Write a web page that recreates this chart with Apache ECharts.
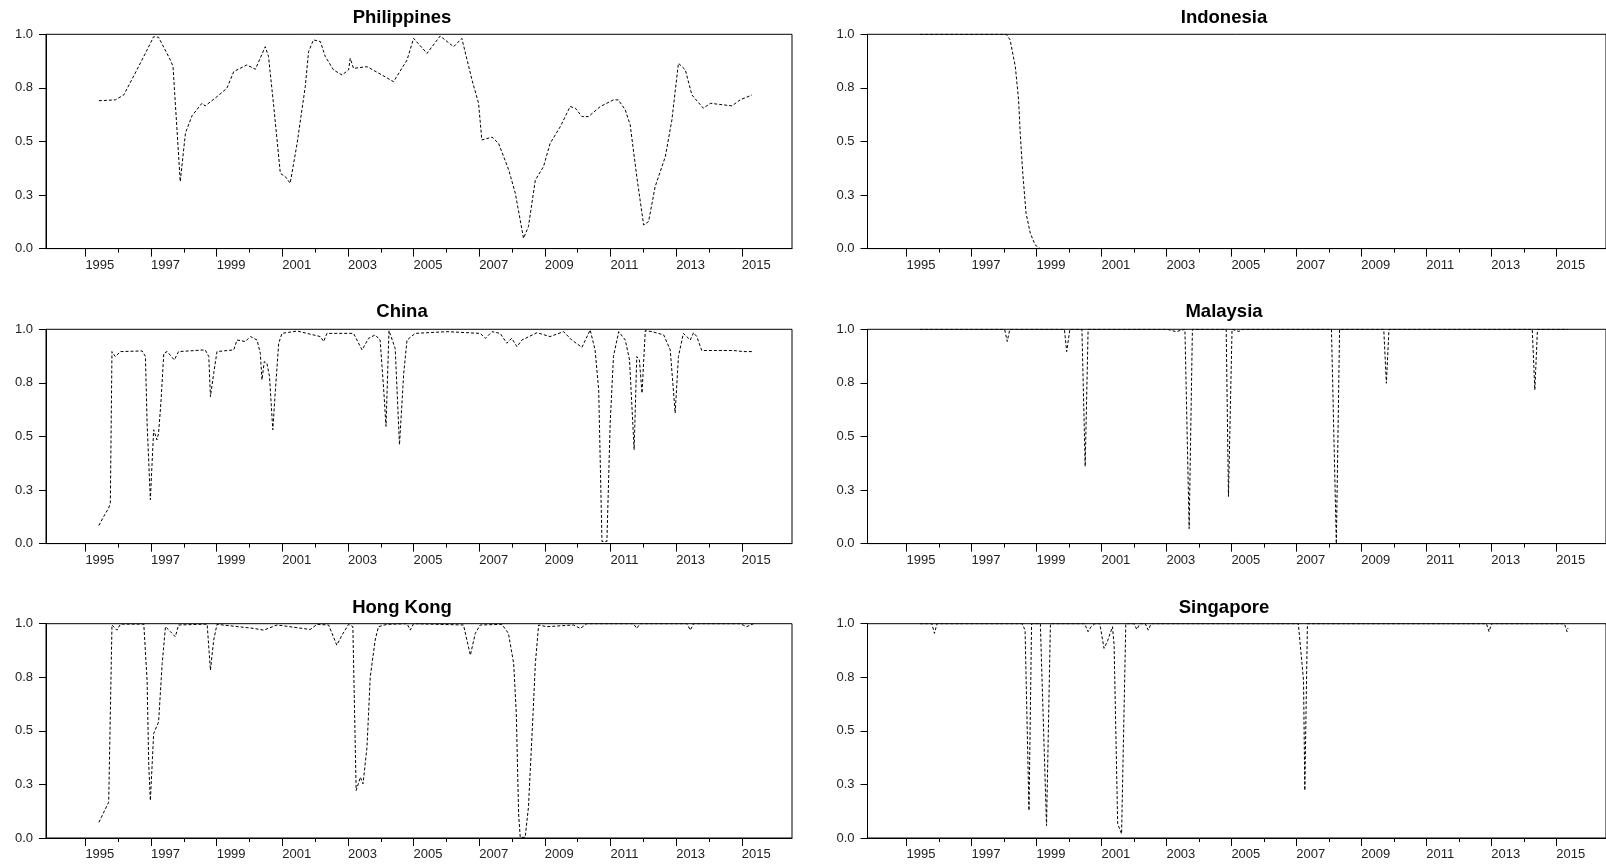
<!DOCTYPE html>
<html>
<head>
<meta charset="utf-8">
<script src="https://cdn.jsdelivr.net/npm/echarts@6/dist/echarts.min.js"></script>
<style>
  html, body { margin: 0; padding: 0; background: #fff; }
  #main { width: 1606px; height: 864px; }
</style>
</head>
<body>
<div id="main"></div>
<script>
// tick positions / labels
var labelYears = [1995, 1997, 1999, 2001, 2003, 2005, 2007, 2009, 2011, 2013, 2015];
var minorYears = [1996, 1998, 2000, 2002, 2004, 2006, 2008, 2010, 2012, 2014];
var yTickVals = [0, 0.25, 0.5, 0.75, 1];
var yTickLabels = ['0.0', '0.3', '0.5', '0.8', '1.0'];

// Philippines
var phYears = [1995.41, 1995.91, 1996.17, 1996.57, 1996.88, 1997.08, 1997.23, 1997.59, 1997.67, 1997.89,
  1998.05, 1998.25, 1998.55, 1998.65, 1999.01, 1999.31, 1999.52, 1999.92, 2000.18, 2000.48,
  2000.58, 2000.74, 2000.94, 2001.09, 2001.24, 2001.45, 2001.70, 2001.80, 2001.95, 2002.16,
  2002.31, 2002.56, 2002.82, 2003.02, 2003.07, 2003.17, 2003.58, 2003.98, 2004.39, 2004.80,
  2005.00, 2005.41, 2005.81, 2006.22, 2006.47, 2006.78, 2006.98, 2007.08, 2007.39, 2007.59,
  2007.90, 2008.10, 2008.35, 2008.50, 2008.71, 2008.96, 2009.16, 2009.47, 2009.77, 2009.93,
  2010.13, 2010.33, 2010.69, 2011.09, 2011.24, 2011.45, 2011.60, 2011.80, 2012.01, 2012.16,
  2012.36, 2012.67, 2012.87, 2013.07, 2013.28, 2013.48, 2013.83, 2014.04, 2014.70, 2014.95,
  2015.31];
var phVals = [0.69, 0.694, 0.717, 0.834, 0.927, 0.989, 0.986, 0.88, 0.85, 0.313,
  0.54, 0.62, 0.678, 0.666, 0.709, 0.748, 0.826, 0.857, 0.837, 0.942,
  0.896, 0.663, 0.351, 0.336, 0.305, 0.49, 0.756, 0.919, 0.974, 0.966,
  0.896, 0.834, 0.81, 0.834, 0.888, 0.841, 0.849, 0.815, 0.779, 0.88,
  0.981, 0.911, 0.992, 0.942, 0.981, 0.787, 0.678, 0.507, 0.52, 0.491,
  0.367, 0.258, 0.048, 0.103, 0.32, 0.383, 0.491, 0.569, 0.663, 0.655,
  0.616, 0.616, 0.663, 0.694, 0.694, 0.647, 0.577, 0.336, 0.11, 0.126,
  0.289, 0.429, 0.6, 0.865, 0.834, 0.717, 0.655, 0.678, 0.666, 0.694,
  0.717];

// Indonesia
var inYears = [1995.42, 1998.07, 1998.19, 1998.35, 1998.45, 1998.50, 1998.58, 1998.68, 1998.81, 1998.96, 1999.11, 2015.36];
var inVals = [1, 1, 0.974, 0.849, 0.694, 0.538, 0.351, 0.165, 0.072, 0.017, 0, 0];

// China
var cnYears = [1995.41, 1995.56, 1995.71, 1995.76, 1995.81, 1995.91, 1996.07, 1996.73, 1996.83, 1996.88,
  1996.98, 1997.08, 1997.18, 1997.23, 1997.30, 1997.39, 1997.49, 1997.71, 1997.84, 1998.65,
  1998.76, 1998.81, 1998.91, 1999.01, 1999.52, 1999.62, 1999.87, 2000.03, 2000.23, 2000.33,
  2000.38, 2000.45, 2000.53, 2000.61, 2000.71, 2000.79, 2000.89, 2000.99, 2001.45, 2002.16,
  2002.26, 2002.36, 2003.17, 2003.43, 2003.63, 2003.83, 2003.98, 2004.09, 2004.16, 2004.25,
  2004.44, 2004.57, 2004.70, 2004.80, 2005.05, 2006.02, 2007.03, 2007.19, 2007.39, 2007.64,
  2007.84, 2007.99, 2008.15, 2008.30, 2008.76, 2009.16, 2009.57, 2009.82, 2010.13, 2010.38,
  2010.53, 2010.64, 2010.74, 2010.89, 2010.99, 2011.09, 2011.25, 2011.45, 2011.58, 2011.72,
  2011.80, 2011.88, 2011.96, 2012.06, 2012.26, 2012.62, 2012.82, 2012.97, 2013.07, 2013.22,
  2013.43, 2013.53, 2013.63, 2013.78, 2014.75, 2015.05, 2015.36];
var cnVals = [0.084, 0.127, 0.166, 0.19, 0.896, 0.873, 0.896, 0.899, 0.873, 0.562,
  0.205, 0.531, 0.484, 0.516, 0.655, 0.888, 0.896, 0.857, 0.896, 0.904,
  0.873, 0.686, 0.795, 0.896, 0.904, 0.95, 0.943, 0.966, 0.95, 0.888,
  0.764, 0.849, 0.842, 0.78, 0.531, 0.717, 0.935, 0.981, 0.992, 0.966,
  0.943, 0.981, 0.981, 0.904, 0.958, 0.974, 0.95, 0.717, 0.547, 0.994,
  0.91, 0.461, 0.795, 0.95, 0.981, 0.989, 0.981, 0.958, 0.989, 0.981,
  0.935, 0.958, 0.919, 0.95, 0.984, 0.966, 0.989, 0.95, 0.916, 0.997,
  0.904, 0.717, 0.01, 0.01, 0.562, 0.873, 0.989, 0.95, 0.857, 0.438,
  0.873, 0.857, 0.702, 0.994, 0.989, 0.974, 0.904, 0.609, 0.873, 0.981,
  0.95, 0.984, 0.966, 0.901, 0.901, 0.896, 0.896];

// Malaysia
var myYears = [1995.42, 1998.02, 1998.10, 1998.18, 1999.86, 1999.93, 2000.03, 2000.40, 2000.50, 2000.59,
  2003.03, 2003.30, 2003.57, 2003.70, 2003.80, 2004.84, 2004.91, 2005.02, 2005.23, 2005.35,
  2008.08, 2008.23, 2008.33, 2009.69, 2009.77, 2009.85, 2014.26, 2014.34, 2014.42, 2015.36];
var myVals = [1, 1, 0.943, 1, 1, 0.896, 1, 1, 0.36, 1,
  1, 0.989, 1, 0.07, 1, 1, 0.22, 1, 0.99, 1,
  1, 0.0, 1, 1, 0.748, 1, 1, 0.717, 1, 1];

// Hong Kong
var hkYears = [1995.41, 1995.71, 1995.81, 1995.96, 1996.07, 1996.78, 1996.88, 1996.93, 1996.98, 1997.08,
  1997.23, 1997.34, 1997.44, 1997.59, 1997.74, 1997.84, 1998.71, 1998.81, 1998.91, 1999.01,
  2000.13, 2000.43, 2000.84, 2001.85, 2002.06, 2002.41, 2002.66, 2002.82, 2003.02, 2003.15,
  2003.25, 2003.38, 2003.46, 2003.58, 2003.68, 2003.83, 2003.93, 2004.19, 2004.80, 2004.90,
  2005.00, 2006.52, 2006.73, 2006.88, 2007.03, 2007.69, 2007.89, 2008.05, 2008.13, 2008.20,
  2008.25, 2008.40, 2008.50, 2008.64, 2008.71, 2008.81, 2009.06, 2009.87, 2010.08, 2010.28,
  2011.70, 2011.80, 2011.90, 2013.33, 2013.43, 2013.53, 2014.95, 2015.15, 2015.36];
var hkVals = [0.073, 0.167, 0.994, 0.97, 0.998, 0.998, 0.736, 0.346, 0.175, 0.487,
  0.541, 0.814, 0.986, 0.963, 0.939, 0.994, 0.998, 0.783, 0.924, 0.997,
  0.978, 0.97, 0.994, 0.973, 0.997, 0.994, 0.9, 0.947, 0.997, 0.986,
  0.222, 0.284, 0.253, 0.424, 0.752, 0.924, 0.986, 0.997, 1, 0.97,
  1, 0.994, 0.853, 0.955, 0.994, 0.997, 0.955, 0.814, 0.58, 0.112,
  0.003, 0.003, 0.144, 0.58, 0.814, 0.994, 0.986, 0.994, 0.978, 1,
  1, 0.978, 1, 1, 0.97, 1, 1, 0.986, 1];

// Singapore
var sgYears = [1995.42, 1995.78, 1995.86, 1995.94, 1998.56, 1998.65, 1998.70, 1998.77, 1998.85, 1999.12,
  1999.31, 1999.43, 2000.48, 2000.59, 2000.68, 2000.80, 2000.95, 2001.08, 2001.19, 2001.34,
  2001.39, 2001.50, 2001.62, 2001.75, 2002.00, 2002.09, 2002.18, 2002.35, 2002.44, 2002.53,
  2007.06, 2007.22, 2007.26, 2007.34, 2012.85, 2012.93, 2013.01, 2015.25, 2015.33, 2015.36];
var sgVals = [1, 1, 0.955, 1, 1, 0.97, 0.97, 0.128, 1, 1,
  0.058, 1, 1, 0.963, 0.986, 1, 1, 0.885, 0.92, 0.986,
  0.9, 0.066, 0.019, 1, 1, 0.973, 1, 1, 0.97, 1,
  1, 0.736, 0.222, 1, 1, 0.963, 1, 1, 0.963, 0.98];

var panels = [
  { name: 'Philippines', years: phYears, vals: phVals },
  { name: 'Indonesia', years: inYears, vals: inVals },
  { name: 'China', years: cnYears, vals: cnVals },
  { name: 'Malaysia', years: myYears, vals: myVals },
  { name: 'Hong Kong', years: hkYears, vals: hkVals },
  { name: 'Singapore', years: sgYears, vals: sgVals }
];

// layout: [left, top, width, titleX, titleY]
var layout = [
  [46, 34.3, 746, 402, 17.5],
  [867.5, 34.3, 743, 1224, 17.5],
  [46, 329.3, 746, 402, 312],
  [867.5, 329.3, 743, 1224, 312],
  [46, 623.7, 746, 402, 607.5],
  [867.5, 623.7, 743, 1224, 607.5]
];
var gridH = 214.3;
var xMin = 1993.8, xMax = 2016.53;
var font = '"Liberation Sans", Arial, sans-serif';

var grids = [], xAxes = [], yAxes = [], series = [], graphics = [];

panels.forEach(function (p, i) {
  var L = layout[i];
  grids.push({
    left: L[0], top: L[1], width: L[2], height: gridH,
    show: true, borderColor: '#000', borderWidth: 1, backgroundColor: 'transparent'
  });
  // main x axis: labels and long ticks
  xAxes.push({
    gridIndex: i, type: 'value', min: xMin, max: xMax,
    axisLine: { show: true, lineStyle: { color: '#000', width: 1 } },
    axisTick: { show: true, length: 8, customValues: labelYears, lineStyle: { color: '#000' } },
    axisLabel: { show: true, customValues: labelYears, align: 'left', margin: 10,
      color: '#222', fontSize: 13, fontFamily: font, formatter: function (v) { return String(v); } },
    splitLine: { show: false }
  });
  // minor ticks only
  xAxes.push({
    gridIndex: i, type: 'value', min: xMin, max: xMax, position: 'bottom',
    axisLine: { show: false },
    axisTick: { show: true, length: 4, customValues: minorYears, lineStyle: { color: '#000' } },
    axisLabel: { show: false },
    splitLine: { show: false }
  });
  yAxes.push({
    gridIndex: i, type: 'value', min: 0, max: 1, interval: 0.25,
    axisLine: { show: true, lineStyle: { color: '#000', width: 1 } },
    axisTick: { show: true, length: 7, lineStyle: { color: '#000' } },
    axisLabel: { color: '#222', fontSize: 13, fontFamily: font, margin: 13,
      formatter: function (v) { return yTickLabels[yTickVals.indexOf(v)]; } },
    splitLine: { show: false }
  });
  series.push({
    type: 'line', xAxisIndex: i * 2, yAxisIndex: i,
    data: p.years.map(function (x, k) { return [x, p.vals[k]]; }),
    showSymbol: false, symbol: 'none',
    lineStyle: { color: '#000', width: 1, type: [3, 2] }
  });
  graphics.push({
    type: 'text', x: L[3], y: L[4],
    style: { text: p.name, font: 'bold 18.5px ' + font, fill: '#000',
      textAlign: 'center', textVerticalAlign: 'middle' }
  });
});

var myChart = echarts.init(document.getElementById('main'));
myChart.setOption({
  animation: false,
  backgroundColor: '#fff',
  grid: grids,
  xAxis: xAxes,
  yAxis: yAxes,
  series: series,
  graphic: graphics
});
</script>
</body>
</html>
